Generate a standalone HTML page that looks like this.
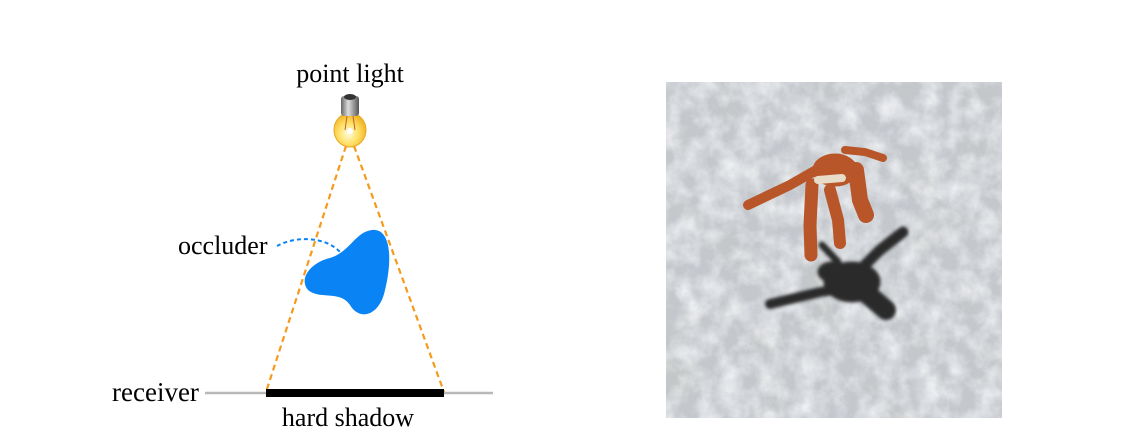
<!DOCTYPE html>
<html><head><meta charset="utf-8"><style>
html,body{margin:0;padding:0;background:#fff;width:1134px;height:438px;overflow:hidden}
svg{display:block}
text{font-family:"Liberation Serif",serif;fill:#000}
</style></head><body>
<svg width="1134" height="438" viewBox="0 0 1134 438">
<defs>
<radialGradient id="bulb" cx="0.45" cy="0.6" r="0.6"><stop offset="0" stop-color="#fffbe0"/><stop offset="0.5" stop-color="#ffe26a"/><stop offset="1" stop-color="#f0b020"/></radialGradient>
<linearGradient id="base" x1="0" x2="1"><stop offset="0" stop-color="#666"/><stop offset="0.4" stop-color="#ddd"/><stop offset="1" stop-color="#555"/></linearGradient>
<filter id="tex" x="0" y="0" width="1" height="1"><feTurbulence type="fractalNoise" baseFrequency="0.05" numOctaves="5" seed="3"/><feColorMatrix type="matrix" values="0 0 0 0 0.95  0 0 0 0 0.96  0 0 0 0 0.98  1.4 0 0 0 -0.45"/></filter>
<filter id="tex2" x="0" y="0" width="1" height="1"><feTurbulence type="fractalNoise" baseFrequency="0.02" numOctaves="3" seed="9"/><feColorMatrix type="matrix" values="0 0 0 0 0.55  0 0 0 0 0.56  0 0 0 0 0.52  -1.2 0 0 0 0.6"/></filter>
<filter id="blur" x="-20%" y="-20%" width="140%" height="140%"><feGaussianBlur stdDeviation="1.5"/></filter>
</defs>
<g>
<text x="350" y="82" font-size="26" text-anchor="middle">point light</text>
<g>
<ellipse cx="350" cy="130" rx="16" ry="17" fill="url(#bulb)" stroke="#e8a820" stroke-width="1"/>
<rect x="341" y="96" width="18" height="20" rx="3" fill="url(#base)"/>
<ellipse cx="350" cy="97" rx="6" ry="3" fill="#333"/>
<path d="M347 116 L345 130 M353 116 L355 130" stroke="#c0602a" stroke-width="1"/>
<circle cx="350" cy="131" r="3" fill="#fff"/>
</g>
<g stroke="#f59a1b" stroke-width="2.2" stroke-dasharray="6,4" fill="none">
<line x1="346" y1="146" x2="266" y2="392"/>
<line x1="354" y1="146" x2="444" y2="392"/>
</g>
<path d="M372 230 C392 228 392 262 385 290 C380 315 360 322 350 305 C340 290 320 300 308 290 C298 278 312 262 330 258 C350 252 355 232 372 230 Z" fill="#0a84f5"/>
<path d="M277 246 C295 236 325 236 340 252" stroke="#0a84f5" stroke-width="2" stroke-dasharray="4,3" fill="none"/>
<text x="178" y="254" font-size="26">occluder</text>
<line x1="205" y1="393" x2="493" y2="393" stroke="#b8b8b8" stroke-width="2.5"/>
<rect x="266" y="389" width="178" height="8" fill="#000"/>
<text x="112" y="401" font-size="27">receiver</text>
<text x="348" y="426" font-size="26" text-anchor="middle">hard shadow</text>
</g>
<g>
<rect x="666" y="82" width="336" height="336" fill="#c4c8cd"/>
<rect x="666" y="82" width="336" height="336" filter="url(#tex2)"/>
<rect x="666" y="82" width="336" height="336" filter="url(#tex)"/>
<g fill="#2a2a2c" stroke="#2a2a2c" stroke-linecap="round" filter="url(#blur)">
<ellipse cx="852" cy="282" rx="28" ry="20"/>
<path d="M770 304 L820 292 L850 288" stroke-width="10" fill="none"/>
<path d="M855 275 L880 250 L903 232" stroke-width="11" fill="none"/>
<path d="M865 292 L886 310" stroke-width="20" fill="none"/>
<path d="M838 262 L822 245" stroke-width="7" fill="none"/>
<ellipse cx="832" cy="272" rx="14" ry="10"/>
</g>
<g fill="#b8562a" stroke="#b8562a" stroke-linecap="round">
<ellipse cx="835" cy="170" rx="22" ry="16"/>
<path d="M825 165 L790 185 L748 205" stroke-width="10" fill="none"/>
<path d="M845 150 L865 152 L883 158" stroke-width="8" fill="none"/>
<path d="M856 170 L860 200 L866 215" stroke-width="16" fill="none"/>
<path d="M812 185 L810 225 L811 255" stroke-width="13" fill="none"/>
<path d="M830 190 L838 220 L840 243" stroke-width="12" fill="none"/>
<path d="M818 180 L842 178" stroke="#e8dcc8" stroke-width="8"/>
</g>
</g>
</svg>
</body></html>
